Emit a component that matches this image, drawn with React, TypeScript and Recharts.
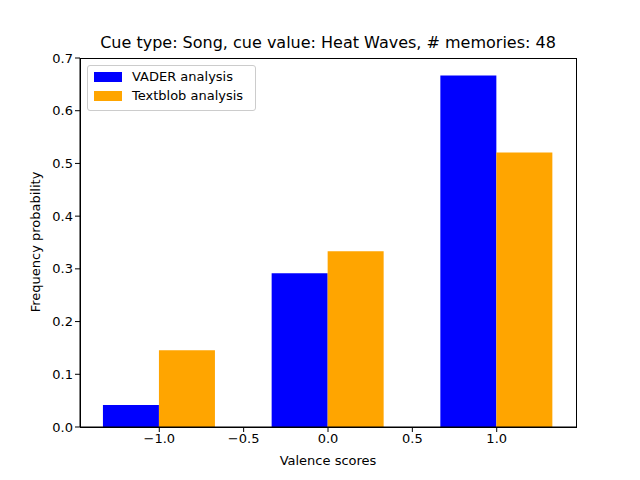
import { ComposedChart, Bar, XAxis, YAxis } from "recharts";

const centers = [-1, 0, 1];
const vader = [0.0417, 0.2917, 0.6667];
const textblob = [0.1458, 0.3333, 0.5208];
const xTicks = [-1, -0.5, 0, 0.5, 1];
const yTicks = [0, 0.1, 0.2, 0.3, 0.4, 0.5, 0.6, 0.7];

const data = centers.map((c, i) => ({ x: c, vader: vader[i], textblob: textblob[i] }));

const font = "DejaVu Sans, sans-serif";
const fmt = (v: number) => (v < 0 ? "\u2212" + Math.abs(v).toFixed(1) : v.toFixed(1));
const tickStyle = { fill: "#000", fontSize: 13, fontFamily: font };

export default function App() {
  return (
    <div style={{ position: "absolute", left: 0, top: 0, width: 640, height: 480, background: "#fff", fontFamily: font }}>
      <ComposedChart
        width={640}
        height={480}
        data={data}
        margin={{ top: 58, right: 64, left: 0, bottom: 0 }}
        barGap={0}
      >
        <XAxis
          dataKey="x"
          type="number"
          domain={[-1.47, 1.47]}
          ticks={xTicks}
          tickFormatter={fmt}
          height={53}
          stroke="#000"
          tickSize={5}
          tick={tickStyle}
          allowDataOverflow
        />
        <YAxis
          domain={[0, 0.7]}
          ticks={yTicks}
          tickFormatter={(v: number) => v.toFixed(1)}
          width={80}
          stroke="#000"
          tickSize={5}
          tick={tickStyle}
        />
        <Bar dataKey="vader" fill="#0000ff" barSize={56} isAnimationActive={false} />
        <Bar dataKey="textblob" fill="#ffa500" barSize={56} isAnimationActive={false} />
      </ComposedChart>
      <div style={{ position: "absolute", left: 80, top: 58, width: 495, height: 368, border: "1px solid #000", pointerEvents: "none" }} />
      <div style={{ position: "absolute", left: 0, width: 656, top: 33, textAlign: "center", fontSize: 16 }}>
        Cue type: Song, cue value: Heat Waves, # memories: 48
      </div>
      <div style={{ position: "absolute", left: 80, width: 496, top: 453, textAlign: "center", fontSize: 13 }}>
        Valence scores
      </div>
      <div style={{ position: "absolute", left: 35, top: 242, fontSize: 13, whiteSpace: "nowrap", transform: "translate(-50%, -50%) rotate(-90deg)" }}>
        Frequency probability
      </div>
      <div style={{ position: "absolute", left: 87, top: 65, width: 167, height: 44, border: "1px solid #ccc", borderRadius: 3, fontSize: 13, background: "#fff" }}>
        {[["VADER analysis", "#0000ff"], ["Textblob analysis", "#ffa500"]].map(([t, c], i) => (
          <div key={t} style={{ position: "absolute", left: 6, top: 3 + i * 19, display: "flex", alignItems: "center" }}>
            <span style={{ width: 28, height: 10, background: c, marginRight: 10, display: "inline-block" }} />
            {t}
          </div>
        ))}
      </div>
    </div>
  );
}
